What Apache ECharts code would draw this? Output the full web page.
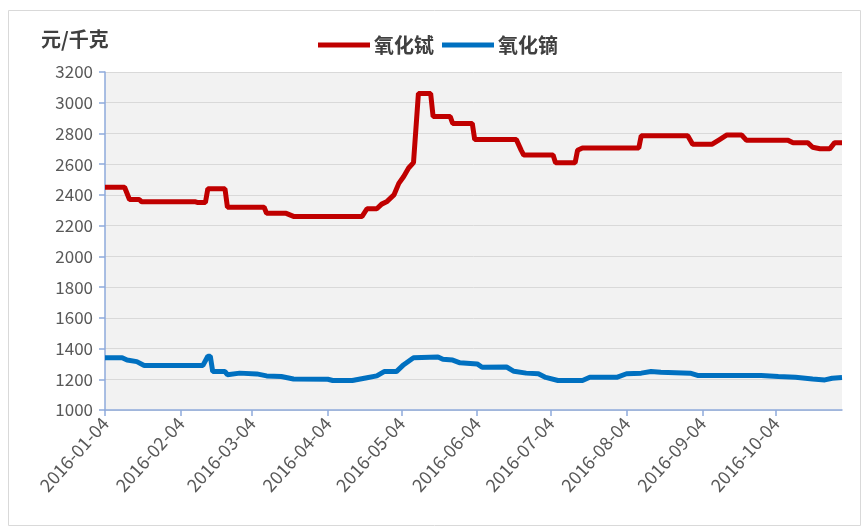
<!DOCTYPE html>
<html>
<head>
<meta charset="utf-8">
<script src="https://cdn.jsdelivr.net/npm/echarts@6/dist/echarts.min.js"></script>
<style>
html, body { margin: 0; padding: 0; background: #fff; }
#chart { width: 862px; height: 528px; }
</style>
</head>
<body>
<div id="chart"></div>
<script>
var tickDates = ['2016-01-04', '2016-02-04', '2016-03-04', '2016-04-04', '2016-05-04',
    '2016-06-04', '2016-07-04', '2016-08-04', '2016-09-04', '2016-10-04'];

// 氧化铽
var tbDates = ['2016-01-04', '2016-01-12', '2016-01-14', '2016-01-18', '2016-01-19', '2016-02-10', '2016-02-11',
    '2016-02-14', '2016-02-15', '2016-02-22', '2016-02-23', '2016-03-09', '2016-03-10', '2016-03-18', '2016-03-21',
    '2016-04-18', '2016-04-20', '2016-04-24', '2016-04-26', '2016-04-28', '2016-05-01', '2016-05-03', '2016-05-05',
    '2016-05-07', '2016-05-09', '2016-05-11', '2016-05-16', '2016-05-17', '2016-05-24', '2016-05-25', '2016-06-02',
    '2016-06-03', '2016-06-20', '2016-06-22', '2016-06-23', '2016-07-05', '2016-07-06', '2016-07-14', '2016-07-15',
    '2016-07-17', '2016-08-09', '2016-08-10', '2016-08-29', '2016-08-31', '2016-09-08', '2016-09-11', '2016-09-14',
    '2016-09-20', '2016-09-22', '2016-10-09', '2016-10-11', '2016-10-17', '2016-10-19', '2016-10-22', '2016-10-26',
    '2016-10-28', '2016-10-31'];
var tbValues = [2450, 2450, 2370, 2370, 2355, 2355, 2350,
    2350, 2440, 2440, 2320, 2320, 2280, 2280, 2260,
    2260, 2310, 2310, 2340, 2355, 2400, 2475, 2520,
    2575, 2610, 3060, 3060, 2910, 2910, 2865, 2865,
    2760, 2760, 2690, 2660, 2660, 2610, 2610, 2690,
    2705, 2705, 2785, 2785, 2730, 2730, 2760, 2790,
    2790, 2755, 2755, 2740, 2740, 2710, 2700, 2700,
    2740, 2740];

// 氧化镝
var dyDates = ['2016-01-04', '2016-01-11', '2016-01-13', '2016-01-17', '2016-01-20', '2016-02-13', '2016-02-15',
    '2016-02-16', '2016-02-17', '2016-02-22', '2016-02-23', '2016-02-28', '2016-03-06', '2016-03-10', '2016-03-16',
    '2016-03-21', '2016-04-04', '2016-04-06', '2016-04-14', '2016-04-20', '2016-04-24', '2016-04-27', '2016-05-02',
    '2016-05-05', '2016-05-09', '2016-05-19', '2016-05-21', '2016-05-25', '2016-05-28', '2016-06-04', '2016-06-06',
    '2016-06-16', '2016-06-19', '2016-06-24', '2016-06-29', '2016-07-02', '2016-07-07', '2016-07-17', '2016-07-20',
    '2016-07-31', '2016-08-04', '2016-08-10', '2016-08-14', '2016-08-18', '2016-08-30', '2016-09-02', '2016-09-28',
    '2016-10-05', '2016-10-12', '2016-10-19', '2016-10-24', '2016-10-27', '2016-10-31'];
var dyValues = [1340, 1340, 1325, 1315, 1290, 1290, 1350,
    1350, 1250, 1250, 1230, 1240, 1235, 1222, 1218,
    1202, 1200, 1192, 1192, 1210, 1222, 1250, 1250,
    1295, 1340, 1345, 1330, 1325, 1307, 1300, 1278,
    1280, 1252, 1240, 1236, 1212, 1192, 1192, 1213,
    1213, 1236, 1240, 1250, 1245, 1240, 1225, 1224,
    1218, 1213, 1202, 1196, 1207, 1211];

function toTime(s) {
    var p = s.split('-');
    return new Date(+p[0], +p[1] - 1, +p[2]).getTime();
}
function pairs(dates, values) {
    var out = [];
    for (var i = 0; i < dates.length; i++) {
        out.push([toTime(dates[i]), values[i]]);
    }
    return out;
}
var tickValues = tickDates.map(toTime);

var chart = echarts.init(document.getElementById('chart'));

chart.setOption({
    animation: false,
    textStyle: { fontFamily: 'Noto Sans CJK SC' },
    graphic: [{
        type: 'rect',
        shape: { x: 8.5, y: 10.5, width: 852, height: 515 },
        style: { fill: 'none', stroke: '#d9d9d9', lineWidth: 1 },
        z: -10
    }],
    title: {
        text: '元/千克',
        left: 36,
        top: 24,
        textStyle: { fontSize: 20, fontWeight: 'bold', color: '#404040' }
    },
    legend: {
        left: 313,
        top: 30,
        icon: 'rect',
        itemWidth: 52,
        itemHeight: 5,
        itemGap: 8,
        textStyle: { fontSize: 20, fontWeight: 'bold', color: '#404040', padding: [0, 0, 0, -1] },
        data: ['氧化铽', '氧化镝']
    },
    grid: {
        left: 105,
        right: 20,
        top: 72,
        bottom: 118,
        show: true,
        backgroundColor: '#f2f2f2',
        borderWidth: 0
    },
    xAxis: {
        type: 'time',
        min: toTime('2016-01-04'),
        max: toTime('2016-10-31'),
        axisLine: { show: true, lineStyle: { color: '#8eaadb', width: 1.5 } },
        axisTick: { show: true, length: 6, customValues: tickValues, lineStyle: { color: '#8eaadb', width: 1.5 } },
        splitLine: { show: false },
        axisLabel: {
            customValues: tickValues,
            rotate: 48,
            margin: 10,
            fontSize: 18,
            color: '#595959',
            formatter: '{yyyy}-{MM}-{dd}'
        }
    },
    yAxis: {
        type: 'value',
        min: 1000,
        max: 3200,
        interval: 200,
        axisLine: { show: true, lineStyle: { color: '#8eaadb', width: 1.5 } },
        axisTick: { show: true, length: 6, lineStyle: { color: '#8eaadb', width: 1.5 } },
        splitLine: { lineStyle: { color: '#d9d9d9', width: 1 } },
        axisLabel: {
            fontSize: 17,
            color: '#595959',
            margin: 12,
            formatter: function (v) { return String(v); }
        }
    },
    series: [{
        name: '氧化铽',
        type: 'line',
        showSymbol: false,
        data: pairs(tbDates, tbValues),
        itemStyle: { color: '#c00000' },
        lineStyle: { color: '#c00000', width: 5 }
    }, {
        name: '氧化镝',
        type: 'line',
        showSymbol: false,
        data: pairs(dyDates, dyValues),
        itemStyle: { color: '#0070c0' },
        lineStyle: { color: '#0070c0', width: 5 }
    }]
});
</script>
</body>
</html>
